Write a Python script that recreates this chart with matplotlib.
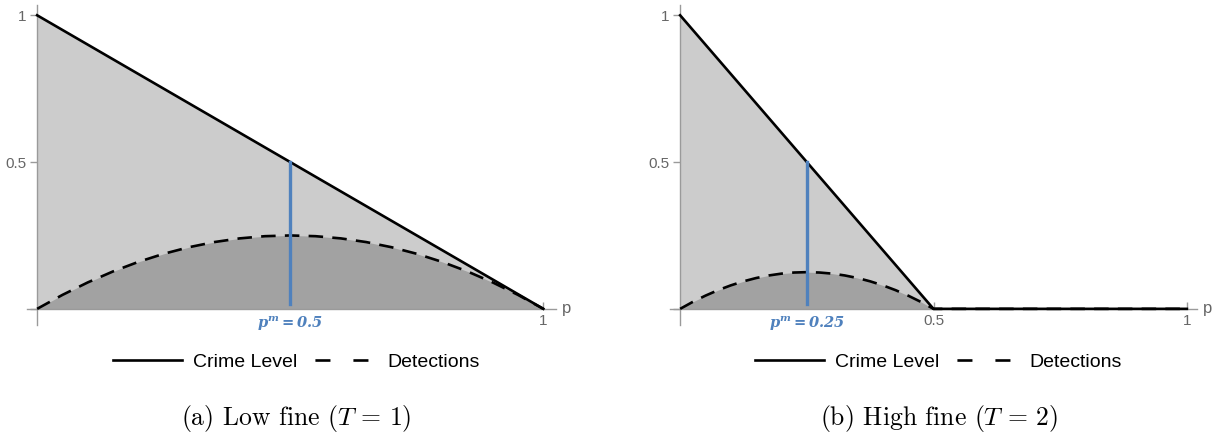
import numpy as np
import matplotlib.pyplot as plt
from matplotlib.lines import Line2D

plt.rcParams['mathtext.fontset'] = 'cm'
plt.rcParams['font.family'] = ['Liberation Sans', 'DejaVu Sans']

# low fine (T = 1)
crime_p_a = [0, 1]
crime_a = [1, 0]
det_p_a = [0, 0.05, 0.1, 0.15, 0.2, 0.25, 0.3, 0.35, 0.4, 0.45, 0.5,
           0.55, 0.6, 0.65, 0.7, 0.75, 0.8, 0.85, 0.9, 0.95, 1]
det_a = [0, 0.0475, 0.09, 0.1275, 0.16, 0.1875, 0.21, 0.2275, 0.24, 0.2475, 0.25,
         0.2475, 0.24, 0.2275, 0.21, 0.1875, 0.16, 0.1275, 0.09, 0.0475, 0]
pm_a = 0.5
pm_top_a = 0.5

# high fine (T = 2)
crime_p_b = [0, 0.5, 1]
crime_b = [1, 0, 0]
det_p_b = [0, 0.025, 0.05, 0.075, 0.1, 0.125, 0.15, 0.175, 0.2, 0.225, 0.25,
           0.275, 0.3, 0.325, 0.35, 0.375, 0.4, 0.425, 0.45, 0.475, 0.5, 1]
det_b = [0, 0.02375, 0.045, 0.06375, 0.08, 0.09375, 0.105, 0.11375, 0.12, 0.12375, 0.125,
         0.12375, 0.12, 0.11375, 0.105, 0.09375, 0.08, 0.06375, 0.045, 0.02375, 0, 0]
pm_b = 0.25
pm_top_b = 0.5

light = '#cccccc'
dark = '#a2a2a2'
blue = '#4f81bd'
axcol = '#9a9a9a'
tickcol = '#666666'

fig = plt.figure(figsize=(12.23, 4.38), dpi=100)
H = 438.0
W = 1223.0


def panel(x0, x1, crime_p, crime, det_p, det, pm, pm_top, xticks, xlim_hi, caption):
    ax = fig.add_axes([x0 / W, (H - 325) / H, (x1 - x0) / W, 320 / H])
    ax.fill_between(crime_p, crime, color=light, lw=0)
    ax.fill_between(det_p, det, color=dark, lw=0)
    ax.plot(crime_p, crime, color='black', lw=1.9, zorder=3)
    ax.plot(det_p, det, color='black', lw=1.9, dashes=(5.5, 3.5), zorder=4)
    ax.plot([pm, pm], [0.015, pm_top], color=blue, lw=2.4, zorder=5)
    ax.text(pm, -0.052, r'$\mathbfit{p^m = %s}$' % pm, color=blue, fontsize=10.5,
            ha='center', va='center', math_fontfamily='dejavuserif')

    ax.set_xlim(-0.02, xlim_hi)
    ax.set_ylim(-0.055, 1.035)
    for s in ['top', 'right']:
        ax.spines[s].set_visible(False)
    for s in ['left', 'bottom']:
        ax.spines[s].set_position(('data', 0))
        ax.spines[s].set_color(axcol)
        ax.spines[s].set_linewidth(1.0)
    ax.set_xticks(xticks)
    ax.set_xticklabels([str(t) for t in xticks])
    ax.set_yticks([0, 0.5, 1])
    ax.set_yticklabels(['', '0.5', '1'])
    ax.tick_params(colors=axcol, labelcolor=tickcol, labelsize=11, length=5, width=1)
    ax.tick_params(axis='x', direction='in', pad=4)
    ax.tick_params(axis='y', direction='out', pad=3)
    ax.text(xlim_hi + 0.012, 0, 'p', color=tickcol, fontsize=12, ha='left', va='center')

    cx = (x0 + 10 + x1) / 2.0 / W
    handles = [Line2D([], [], color='black', lw=1.9),
               Line2D([], [], color='black', lw=1.9, linestyle=(11.4, (5.7, 8.7)))]
    fig.legend(handles, ['Crime Level', 'Detections'], loc='center',
               bbox_to_anchor=(cx, (H - 362) / H), ncol=2, frameon=False,
               fontsize=14, handlelength=3.55, handletextpad=0.57, columnspacing=0.5)
    fig.text(cx, (H - 418) / H, caption, ha='center', va='center',
             fontsize=18.5, family='cmr10')


panel(27, 556, crime_p_a, crime_a, det_p_a, det_a, pm_a, pm_top_a,
      [1], 1.025, r'(a) Low fine ($T\,=\,1$)')
panel(670, 1197, crime_p_b, crime_b, det_p_b, det_b, pm_b, pm_top_b,
      [0.5, 1], 1.02, r'(b) High fine ($T\,=\,2$)')

fig.savefig('out.png', dpi=100)
